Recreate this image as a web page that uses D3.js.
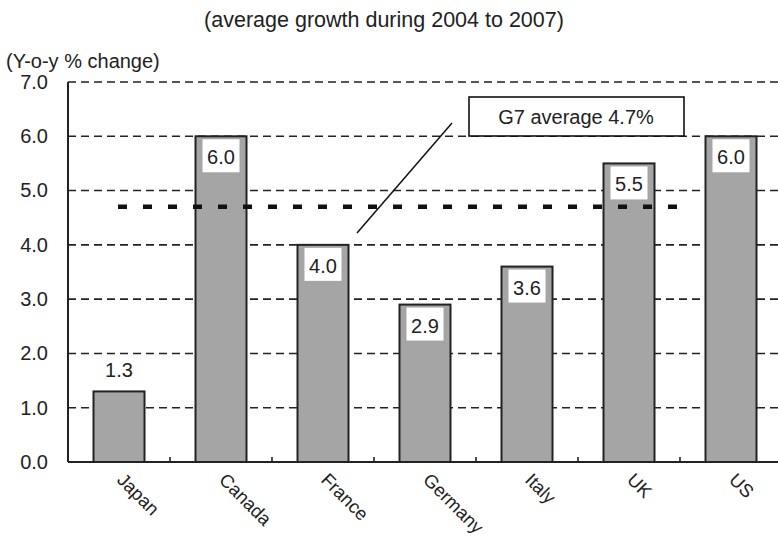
<!DOCTYPE html>
<html>
<head>
<meta charset="utf-8">
<script src="https://cdn.jsdelivr.net/npm/d3@7"></script>
<style>
  body { margin: 0; background: #fff; }
  svg { display: block; font-family: "Liberation Sans", Arial, sans-serif; }
</style>
</head>
<body>
<svg id="chart" width="778" height="538"></svg>
<script>
// Average real growth by G7 country, 2004-2007
const countries = ["Japan", "Canada", "France", "Germany", "Italy", "UK", "US"];
const growth = [1.3, 6.0, 4.0, 2.9, 3.6, 5.5, 6.0];
const yTicks = [0, 1, 2, 3, 4, 5, 6, 7];
const g7Average = 4.7;
const titleText = "(average growth during 2004 to 2007)";
const unitText = "(Y-o-y % change)";

const svg = d3.select("#chart");
const plotLeft = 68, plotTop = 82, plotBottom = 462;
const step = 102;
const plotRight = plotLeft + step * countries.length;
const ink = "#222";

const x = d3.scaleBand().domain(countries).range([plotLeft, plotRight]).paddingInner(0.5).paddingOuter(0.25);
const y = d3.scaleLinear().domain([0, 7]).range([plotBottom, plotTop]);

// title and unit
svg.append("text").attr("x", 384).attr("y", 27).attr("text-anchor", "middle")
  .attr("font-size", 21.5).attr("fill", ink).text(titleText);
svg.append("text").attr("x", 6).attr("y", 68)
  .attr("font-size", 20).attr("fill", ink).text(unitText);

// horizontal dashed grid
svg.append("g").selectAll("line").data(yTicks.filter(d => d > 0)).join("line")
  .attr("x1", plotLeft).attr("x2", plotRight)
  .attr("y1", d => y(d)).attr("y2", d => y(d))
  .attr("stroke", ink).attr("stroke-width", 1.6).attr("stroke-dasharray", "8,5");

// y axis labels
const yAxis = d3.axisLeft(y).tickValues(yTicks).tickFormat(d3.format(".1f")).tickSize(0).tickPadding(20);
const ya = svg.append("g").attr("transform", `translate(${plotLeft},0)`).call(yAxis);
ya.select(".domain").remove();
ya.selectAll("text").attr("font-size", 20).attr("fill", ink).attr("font-family", "Liberation Sans, Arial, sans-serif");

// bars
svg.append("g").selectAll("rect").data(countries).join("rect")
  .attr("x", d => x(d)).attr("width", x.bandwidth())
  .attr("y", (d, i) => y(growth[i])).attr("height", (d, i) => plotBottom - y(growth[i]))
  .attr("fill", "#a5a5a5").attr("stroke", ink).attr("stroke-width", 2);

// axis lines
svg.append("line").attr("x1", plotLeft).attr("x2", plotLeft).attr("y1", plotTop).attr("y2", plotBottom)
  .attr("stroke", ink).attr("stroke-width", 2);
svg.append("line").attr("x1", plotLeft).attr("x2", plotRight).attr("y1", plotBottom).attr("y2", plotBottom)
  .attr("stroke", ink).attr("stroke-width", 2);
// category separators on the baseline
svg.append("g").selectAll("line").data(d3.range(1, countries.length)).join("line")
  .attr("x1", d => plotLeft + d * step).attr("x2", d => plotLeft + d * step)
  .attr("y1", plotBottom).attr("y2", plotBottom - 5)
  .attr("stroke", ink).attr("stroke-width", 1.6);

// value labels: boxed inside tall bars, plain above short ones
const lab = svg.append("g");
countries.forEach((c, i) => {
  const cx = x(c) + x.bandwidth() / 2;
  const v = growth[i];
  const txt = d3.format(".1f")(v);
  if (v < 2) {
    lab.append("text").attr("x", cx).attr("y", y(v) - 14).attr("text-anchor", "middle")
      .attr("font-size", 20).attr("fill", ink).text(txt);
  } else {
    lab.append("rect").attr("x", cx - 18.5).attr("y", y(v) + 3).attr("width", 37).attr("height", 33)
      .attr("fill", "#fff");
    lab.append("text").attr("x", cx).attr("y", y(v) + 28).attr("text-anchor", "middle")
      .attr("font-size", 20).attr("fill", ink).text(txt);
  }
});

// G7 average line
svg.append("line").attr("x1", 118).attr("x2", 692)
  .attr("y1", y(g7Average)).attr("y2", y(g7Average))
  .attr("stroke", "#111").attr("stroke-width", 4.5).attr("stroke-dasharray", "9,16");

// callout
svg.append("line").attr("x1", 357).attr("y1", 233).attr("x2", 452).attr("y2", 123)
  .attr("stroke", "#111").attr("stroke-width", 1.5);
svg.append("rect").attr("x", 469).attr("y", 97).attr("width", 215).attr("height", 39)
  .attr("fill", "#fff").attr("stroke", "#111").attr("stroke-width", 1.6);
svg.append("text").attr("x", 576).attr("y", 124).attr("text-anchor", "middle")
  .attr("font-size", 20).attr("fill", ink).text(`G7 average ${g7Average}%`);

// category labels, rotated
svg.append("g").selectAll("text").data(countries).join("text")
  .attr("transform", d => `translate(${x(d) + x.bandwidth() / 2 - 3},${plotBottom + 19}) rotate(45)`)
  .attr("font-size", 18.5).attr("fill", ink).text(d => d);
</script>
</body>
</html>
